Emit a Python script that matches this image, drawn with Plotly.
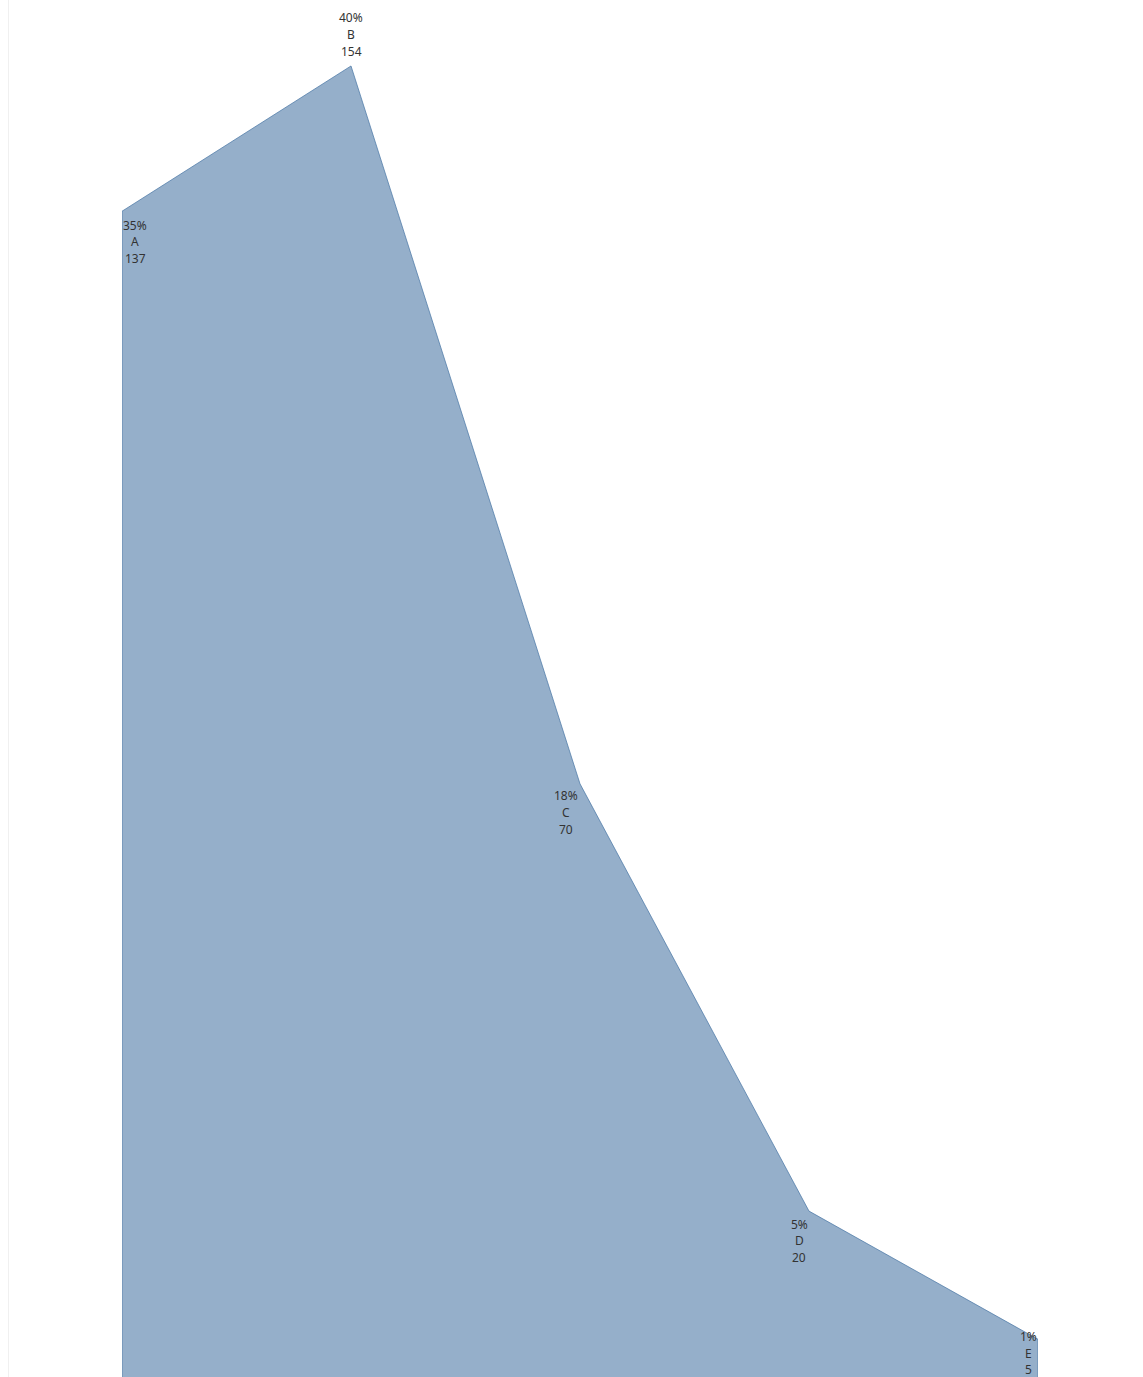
import plotly.graph_objects as go

categories = ["A", "B", "C", "D", "E"]
values = [137, 154, 70, 20, 5]
percent_labels = ["35%", "40%", "18%", "5%", "1%"]

# label placement (pixels, style only): offset of first line centre from point
label_dx = [13, 0, -14, -10, -10]
label_dy = [14, -48, 12, 13, -3]
line_gap = 16.7

W, H = 1143, 1377
ml, mr = 122, 105

fig = go.Figure()

# closed area polygon built from the data
poly_x = [categories[0]] + categories + [categories[-1]]
poly_y = [0] + values + [0]
fig.add_trace(go.Scatter(
    x=poly_x, y=poly_y, mode="lines", fill="toself",
    fillcolor="rgba(78,121,167,0.6)",
    line=dict(color="rgba(78,121,167,0.75)", width=1),
    hoverinfo="skip", showlegend=False,
))

annotations = []
for i, c in enumerate(categories):
    lines = [percent_labels[i], c, str(values[i])]
    for k, t in enumerate(lines):
        annotations.append(dict(
            x=c, y=values[i], text=t, showarrow=False,
            xanchor="center", yanchor="middle",
            xshift=label_dx[i], yshift=-(label_dy[i] + k * line_gap),
            font=dict(family="Noto Sans, Lato, sans-serif", size=12, color="#333333"),
        ))

fig.update_layout(
    width=W, height=H, autosize=False,
    margin=dict(l=ml, r=mr, t=0, b=0, pad=0),
    paper_bgcolor="white", plot_bgcolor="white",
    showlegend=False,
    annotations=annotations,
    shapes=[dict(type="line", xref="paper", yref="paper",
                 x0=(8.5 - ml) / (W - ml - mr), x1=(8.5 - ml) / (W - ml - mr),
                 y0=0, y1=1, line=dict(color="#f0f0f0", width=1))],
)
fig.update_xaxes(type="category", categoryorder="array", categoryarray=categories,
                 range=[0, 4], visible=False, showgrid=False, zeroline=False)
fig.update_yaxes(range=[0.59, 161.72], visible=False, showgrid=False, zeroline=False)

fig.write_html("out.html", config={"displayModeBar": False},
               post_script="document.body.style.margin='0';document.body.style.overflow='hidden';")
